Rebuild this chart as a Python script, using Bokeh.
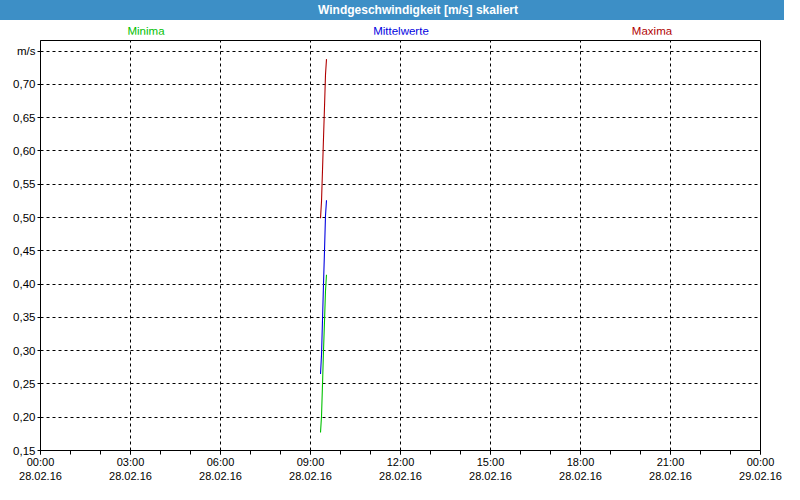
from bokeh.plotting import figure
from bokeh.models import Range1d, FixedTicker, Div
from bokeh.layouts import column
from bokeh.embed import file_html
from bokeh.resources import INLINE

chart_title = "Windgeschwindigkeit [m/s] skaliert"

# sample times on 28.02.16
times = ["09:20", "09:22", "09:24", "09:26", "09:28", "09:30", "09:32"]
minima = [0.177, 0.201, 0.249, 0.300, 0.344, 0.390, 0.414]
mittelwerte = [0.265, 0.293, 0.346, 0.400, 0.450, 0.503, 0.526]
maxima = [0.499, 0.524, 0.571, 0.619, 0.666, 0.715, 0.738]

series_names = ["Minima", "Mittelwerte", "Maxima"]
series_colors = ["#00c000", "#0000e0", "#b00000"]
series_label_left = [146, 401, 652]

x_ticks = [0, 3, 6, 9, 12, 15, 18, 21, 24]
x_tick_labels = ["00:00\n28.02.16", "03:00\n28.02.16", "06:00\n28.02.16",
                 "09:00\n28.02.16", "12:00\n28.02.16", "15:00\n28.02.16",
                 "18:00\n28.02.16", "21:00\n28.02.16", "00:00\n29.02.16"]
x_minor = list(range(0, 25))
y_ticks = [0.15, 0.20, 0.25, 0.30, 0.35, 0.40, 0.45, 0.50, 0.55, 0.60, 0.65, 0.70, 0.75]
y_tick_labels = ["0,15", "0,20", "0,25", "0,30", "0,35", "0,40", "0,45", "0,50",
                 "0,55", "0,60", "0,65", "0,70", "m/s"]

hours = [int(t[:2]) + int(t[3:]) / 60 for t in times]

FONT = "Liberation Sans"
BLUE = "#3d8fc6"

p = figure(width=784, height=450, output_backend="svg", toolbar_location=None,
           x_range=Range1d(0, 24), y_range=Range1d(0.15, 0.766),
           min_border_left=40, min_border_right=24, min_border_top=6,
           min_border_bottom=30, margin=0)
p.background_fill_color = "white"
p.border_fill_color = "white"
p.outline_line_color = "black"
p.outline_line_width = 1

for vals, c in zip([minima, mittelwerte, maxima], series_colors):
    p.line(hours, vals, line_color=c, line_width=1.1)

# axes
p.xaxis.ticker = FixedTicker(ticks=x_ticks, minor_ticks=x_minor)
p.xaxis.major_label_overrides = {t: l for t, l in zip(x_ticks, x_tick_labels)}
p.yaxis.ticker = FixedTicker(ticks=y_ticks)
p.yaxis.major_label_overrides = {t: l for t, l in zip(y_ticks, y_tick_labels)}
for ax in (p.xaxis[0], p.yaxis[0]):
    ax.axis_line_color = "black"
    ax.major_tick_line_color = "black"
    ax.minor_tick_line_color = "black"
    ax.major_tick_in = 0
    ax.minor_tick_in = 0
    ax.major_label_text_font = FONT
    ax.major_label_text_font_size = "11px"
    ax.major_label_text_color = "black"
p.xaxis.major_tick_out = 4
p.xaxis.minor_tick_out = 4
p.xaxis.major_label_standoff = 1
p.yaxis.major_tick_out = 3
p.yaxis.minor_tick_line_color = None
p.yaxis.major_label_standoff = 2
p.yaxis.major_label_text_font_size = "11.5px"

for g in (p.xgrid[0], p.ygrid[0]):
    g.grid_line_color = "black"
    g.grid_line_dash = "3 3"
    g.grid_line_width = 1
p.xgrid.ticker = FixedTicker(ticks=x_ticks)
p.ygrid.ticker = FixedTicker(ticks=y_ticks)

spans = "".join(
    f'<span style="position:absolute;left:{lx}px;top:25px;transform:translateX(-50%);'
    f'color:{c};white-space:nowrap;line-height:13px;">{n}</span>'
    for n, c, lx in zip(series_names, series_colors, series_label_left))
html = (
    f'<div style="position:relative;width:784px;height:34px;font-family:\'{FONT}\';'
    f'font-size:11.5px;background:white;">'
    f'<div style="position:absolute;left:0;top:0;width:784px;height:20px;background:{BLUE};"></div>'
    f'<span style="position:absolute;left:418px;top:3px;transform:translateX(-50%);'
    f'color:white;font-weight:bold;font-size:12px;line-height:14px;white-space:nowrap;">'
    f'{chart_title}</span>{spans}</div>'
)
header = Div(text=html, width=784, height=34, margin=0)

layout = column(header, p, spacing=0, margin=0)
open("out.html", "w").write(file_html(layout, INLINE))
